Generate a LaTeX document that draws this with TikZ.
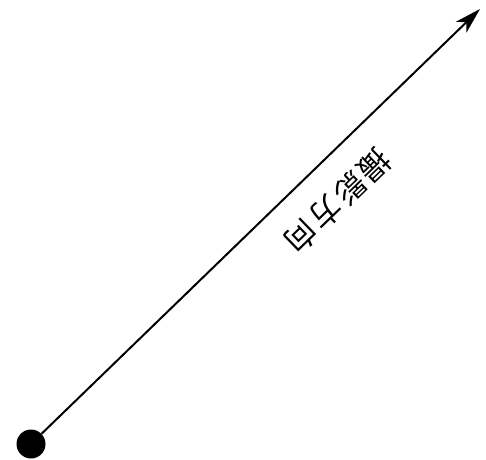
\documentclass[tikz,border=0pt]{standalone}
\usepackage{fontspec}
\usepackage{tikz}
\usetikzlibrary{arrows.meta, positioning}
\newfontfamily\jpfont[LetterSpace=10]{Noto Sans CJK JP}

\begin{document}
\begin{tikzpicture}[x=1pt, y=1pt,
    origin/.style={circle, fill=black, inner sep=0pt, minimum size=29pt},
    label/.style={font=\jpfont\fontsize{31}{31}\selectfont, inner sep=0pt, rotate=224.1},
    arrow/.style={draw=black, line width=2pt, -{Stealth[length=26pt, width=15pt, inset=7pt]}}]

    \useasboundingbox (0,0) rectangle (486,459);

    \node [origin] (src) at (31,15) {};
    \coordinate (tip) at (480,450);
    \node [label] (dir) at (338,258) {撮影方向};

    \draw [arrow] (src) -- (tip);

\end{tikzpicture}
\end{document}
